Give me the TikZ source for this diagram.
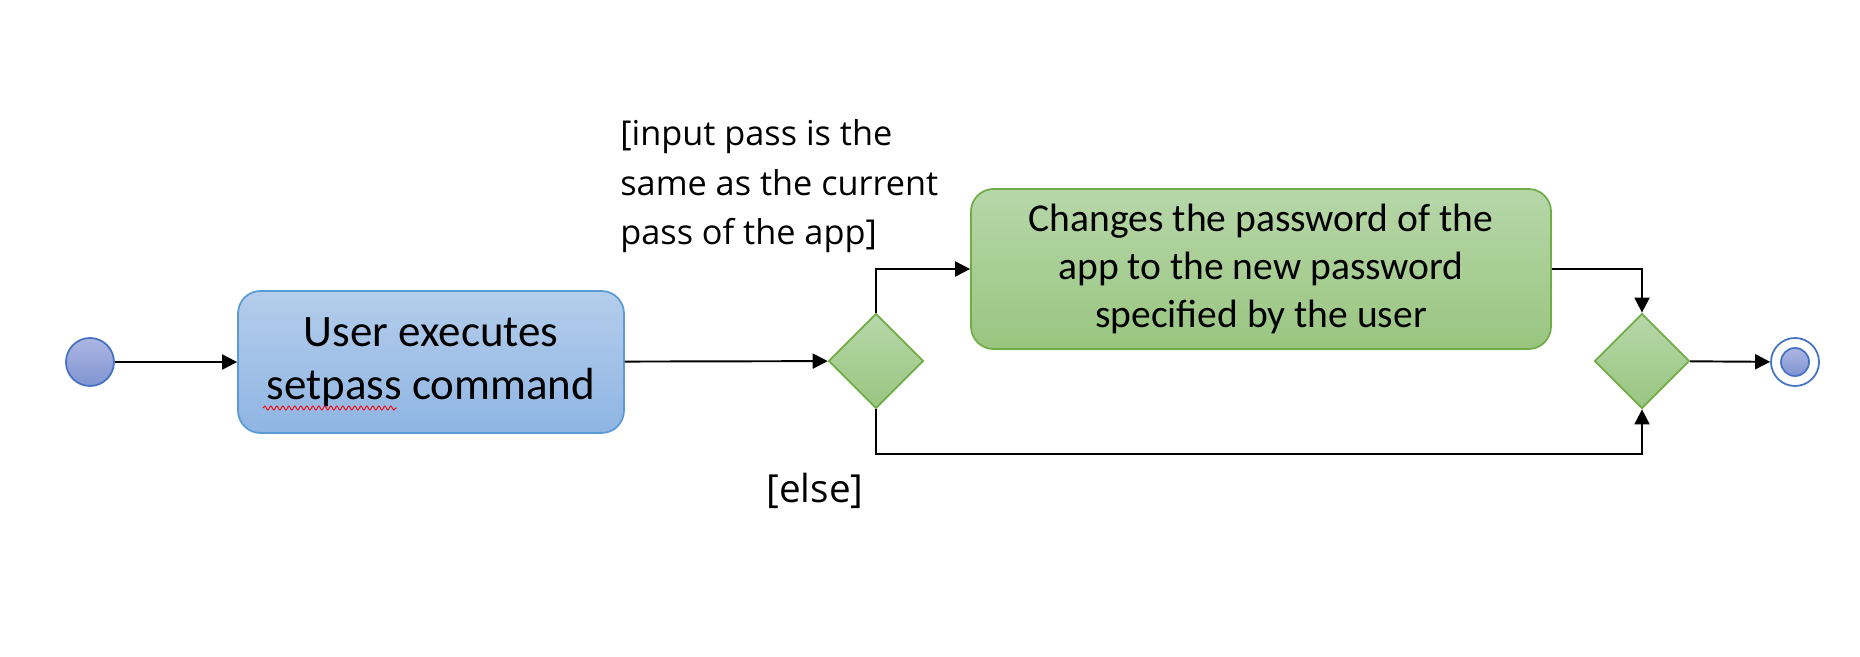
\documentclass[tikz,border=0pt]{standalone}
\usepackage{fontspec}
\setmainfont{Carlito}
\newfontfamily\guardfont{Open Sans}
\usepackage{tikz}
\usetikzlibrary{shapes.geometric,arrows.meta,decorations.pathmorphing}

\definecolor{blueline}{RGB}{91,155,213}
\definecolor{bluetop}{RGB}{180,205,235}
\definecolor{bluebot}{RGB}{143,181,227}
\definecolor{greenline}{RGB}{112,173,71}
\definecolor{greentop}{RGB}{183,215,169}
\definecolor{greenbot}{RGB}{153,197,128}
\definecolor{dotline}{RGB}{68,114,196}
\definecolor{dottop}{RGB}{172,182,226}
\definecolor{dotbot}{RGB}{128,148,210}

\begin{document}
\begin{tikzpicture}[
  flow/.style={-{Triangle[length=0.3cm,width=0.3cm]},line width=1.1pt},
  activity/.style={rounded corners=0.45cm,line width=1pt,inner sep=0pt,align=center},
  bluebox/.style={activity,draw=blueline,top color=bluetop,bottom color=bluebot},
  greenbox/.style={activity,draw=greenline,top color=greentop,bottom color=greenbot},
  choice/.style={diamond,draw=greenline,line width=1pt,top color=greentop,bottom color=greenbot,
    minimum size=1.9cm,inner sep=0pt},
  dot/.style={circle,draw=dotline,line width=1pt,top color=dottop,bottom color=dotbot,inner sep=0pt}
]
\useasboundingbox (0,0) rectangle (37.2,13.12);

\node[dot,minimum size=0.96cm] (start) at (1.8,5.88) {};
\node[bluebox,minimum width=7.72cm,minimum height=2.84cm,font=\fontsize{25.6}{30}\selectfont]
  (setpass) at (8.62,5.88) {User executes\\ setpass command};
\node[choice] (check) at (17.52,5.9) {};
\node[greenbox,minimum width=11.6cm,minimum height=3.2cm,font=\fontsize{22.5}{27.5}\selectfont]
  (change) at (25.22,7.74) {Changes the password of the\\ app to the new password\\ specified by the user};
\node[choice] (merge) at (32.84,5.9) {};
\node[circle,draw=dotline,line width=1pt,fill=white,minimum size=0.96cm,inner sep=0pt] (final) at (35.9,5.88) {};
\node[dot,minimum size=0.56cm] (finaldot) at (final) {};

\node[anchor=north west,align=left,inner sep=0pt,font=\guardfont\fontsize{19.5}{28.3}\selectfont]
  (guard) at (12.4,10.74) {[input pass is the\\ same as the current\\ pass of the app]};
\node[inner sep=0pt,font=\guardfont\fontsize{22}{26}\selectfont] (else) at (16.3,3.3) {[else]};

\coordinate (low) at (17.52,4.04);

\draw[flow] (start) -- (setpass);
\draw[flow] (setpass) -- (check);
\draw[flow] (check.north) |- (change.west);
\draw[flow] (change.east) -| (merge.north);
\draw[flow] (check.south) -- (low) -| (merge.south);
\draw[flow] (merge) -- (final);

\draw[red,line width=0.5pt,decorate,decoration={snake,amplitude=0.04cm,segment length=0.12cm}]
  (5.26,4.96) -- (7.94,4.96);
\end{tikzpicture}
\end{document}
